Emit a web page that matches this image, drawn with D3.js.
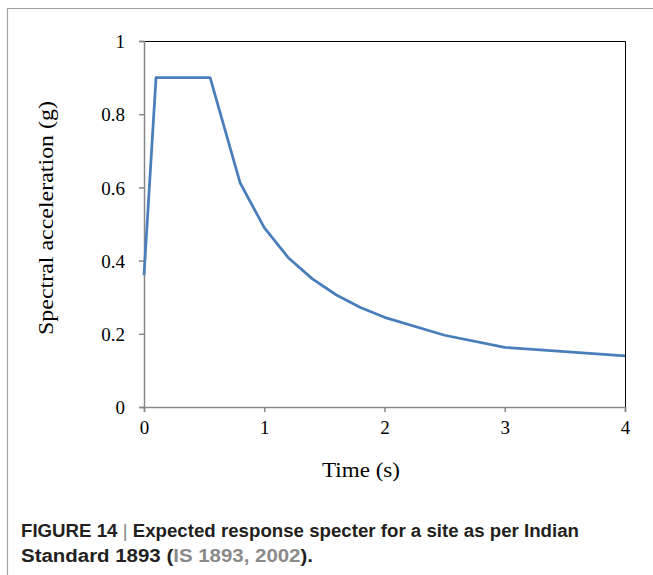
<!DOCTYPE html>
<html><head><meta charset="utf-8">
<script src="https://cdn.jsdelivr.net/npm/d3@7"></script>
<style>body{margin:0;background:#fff}svg{display:block}</style>
</head><body>
<svg id="chart" width="653" height="575"></svg>
<script>
const periods = [0, 0.1, 0.55, 0.8, 1.0, 1.2, 1.4, 1.6, 1.8, 2.0, 2.5, 3.0, 4.0];
const accel   = [0.36, 0.9, 0.9, 0.612, 0.49, 0.408, 0.35, 0.306, 0.272, 0.245, 0.196, 0.163, 0.14];
const xTicks = [0, 1, 2, 3, 4];
const yTicks = [0, 0.2, 0.4, 0.6, 0.8, 1];
const xTitle = "Time (s)";
const yTitle = "Spectral acceleration (g)";

const svg = d3.select("#chart");
// outer frame
svg.append("path").attr("d","M7.5,575V8.5H653").attr("fill","none").attr("stroke","#a0a0a0").attr("stroke-width",1.2);

const L=144, R=625, T=41, B=407;
const x = d3.scaleLinear().domain([0,4]).range([L,R]);
const y = d3.scaleLinear().domain([0,1]).range([B,T]);

// top & right border
svg.append("path").attr("d",`M${L},${T+0.5}H${R+0.5}V${B}`).attr("fill","none").attr("stroke","#000").attr("stroke-width",1);

const serif = "'Liberation Serif','Times New Roman',serif";
const yAxis = svg.append("g").attr("transform",`translate(${L},0)`)
  .call(d3.axisLeft(y).tickValues(yTicks).tickFormat(d=>d3.format("")(d)).tickSize(5).tickPadding(14));
const xAxis = svg.append("g").attr("transform",`translate(0,${B})`)
  .call(d3.axisBottom(x).tickValues(xTicks).tickFormat(d3.format("d")).tickSize(5).tickPadding(9));
[yAxis,xAxis].forEach(a=>{
  a.selectAll("path,line").attr("stroke","#868686").attr("stroke-width",1.5);
  a.selectAll("text").attr("font-family",serif).attr("font-size",19).attr("fill","#000");
});
yAxis.selectAll("text").attr("dy","0.35em");

svg.append("path").datum(periods.map((p,i)=>[p,accel[i]]))
  .attr("d",d3.line().x(d=>x(d[0])).y(d=>y(d[1])))
  .attr("fill","none").attr("stroke","#4a7ebb").attr("stroke-width",2.75).attr("stroke-linejoin","round");

svg.append("text").attr("x",322).attr("y",477)
  .attr("font-family",serif).attr("font-size",21).attr("textLength",78).attr("lengthAdjust","spacingAndGlyphs").text(xTitle);
svg.append("text").attr("transform",`translate(53,218) rotate(-90)`).attr("text-anchor","middle")
  .attr("font-family",serif).attr("font-size",20).attr("textLength",234).attr("lengthAdjust","spacingAndGlyphs").text(yTitle);

const sans = "'Liberation Sans',Arial,Helvetica,sans-serif";
const c1 = svg.append("text").attr("x",21).attr("y",537).attr("font-family",sans).attr("font-size",18).attr("font-weight","bold").attr("fill","#231f20")
  .attr("textLength",558).attr("lengthAdjust","spacingAndGlyphs");
c1.append("tspan").text("FIGURE 14 ");
c1.append("tspan").attr("font-weight","normal").attr("fill","#888").text("|");
c1.append("tspan").text(" Expected response specter for a site as per Indian");
const c2 = svg.append("text").attr("x",21).attr("y",562).attr("font-family",sans).attr("font-size",18).attr("font-weight","bold").attr("fill","#231f20")
  .attr("textLength",292).attr("lengthAdjust","spacingAndGlyphs");
c2.append("tspan").text("Standard 1893 (");
c2.append("tspan").attr("fill","#8a8a8a").text("IS 1893, 2002");
c2.append("tspan").text(").");
</script>
</body></html>
